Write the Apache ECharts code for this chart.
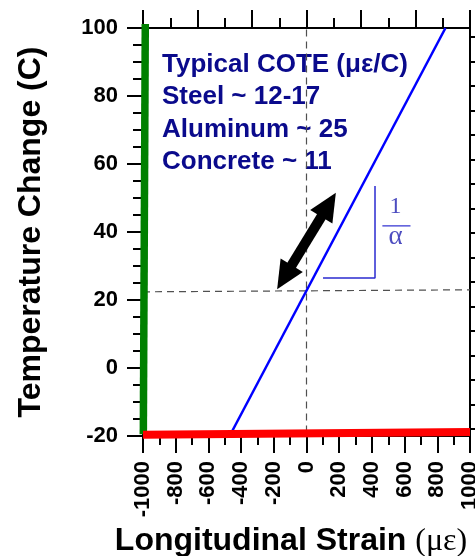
<!DOCTYPE html>
<html>
<head>
<meta charset="utf-8">
<script src="https://cdn.jsdelivr.net/npm/echarts@6/dist/echarts.min.js"></script>
<style>
  html, body { margin: 0; padding: 0; background: #fff; }
  #chart { width: 475px; height: 556px; }
</style>
</head>
<body>
<div id="chart"></div>
<script>
// Axis ranges
const strainRange = [-1000, 1000];
const strainStep = 200;
const tempRange = [-20, 100];
const tempStep = 20;
// Unlabelled secondary tick rows (top and right frame edges)
const topTickCount = 6;
const rightTickTemps = [-17.9, -10.7, -3.5, 3.7, 10.9, 18.1, 25.3, 32.5, 39.7,
                        46.9, 54.1, 61.3, 68.5, 75.7, 82.9, 90.1, 97.3];

// Free thermal expansion line (concrete, about 11 µε per degree C)
const freeStrain = [-455, 850];
const freeTemp = [-18.6, 100];
// Fully restrained boundaries
const fixedStrainX = [-998, -986];
const fixedStrainT = [-19.5, 101.2];
const fixedTempX = [-1000, 1000];
const fixedTempT = [-19.6, -18.85];
// Reference crosshair
const refHStrain = [-1000, 1000];
const refHTemp = [22.4, 23.0];
const refVStrain = [0, 0];
const refVTemp = [-19, 100];
// Double-headed arrow along the free line
const arrowStrain = [-135, 135];
const arrowTemp = [26.7, 48];
// Slope triangle and 1/alpha note
const slopeStrain = [101, 419, 419];
const slopeTemp = [26.5, 26.5, 53.5];
const fracBarStrain = [464, 636];
const fracBarTemp = [41.8, 41.8];
const fracText = ['1', 'α'];
const fracSize = [24, 27];
const fracStrain = [545, 545];
const fracTemp = [47.4, 38.6];
// Text block
const noteLines = ['Typical COTE (με/C)', 'Steel ~ 12-17', 'Aluminum ~ 25', 'Concrete ~ 11'];

const SANS = 'Liberation Sans, Arial, sans-serif';
const SERIF = 'Liberation Serif, Times New Roman, serif';
const zip = (xs, ys) => xs.map((x, i) => [x, ys[i]]);

const axisLine = { show: true, onZero: false, lineStyle: { color: '#000', width: 2 } };
const tickStyle = { color: '#000', width: 2 };

const chart = echarts.init(document.getElementById('chart'), null, { renderer: 'canvas' });

const lineSeries = (xs, ys, style, extra) => Object.assign({
  type: 'line', xAxisIndex: 0, yAxisIndex: 0, data: zip(xs, ys),
  symbol: 'none', silent: true, clip: false, animation: false,
  lineStyle: style
}, extra || {});

chart.setOption({
  animation: false,
  backgroundColor: '#fff',
  grid: { left: 143, right: 5, top: 28, bottom: 120, containLabel: false, outerBoundsMode: 'none' },
  xAxis: [
    {
      type: 'value', position: 'bottom', min: strainRange[0], max: strainRange[1], interval: strainStep,
      axisLine: axisLine,
      axisTick: { show: true, length: 17, lineStyle: tickStyle },
      minorTick: { show: true, splitNumber: 2, length: 9, lineStyle: tickStyle },
      splitLine: { show: false },
      axisLabel: {
        rotate: 90, margin: 25, fontSize: 22, fontWeight: 'bold', fontFamily: SANS, color: '#000',
        formatter: v => String(v)
      },
      name: 'Longitudinal Strain {s|(με)}', nameLocation: 'middle', nameGap: 88,
      nameTextStyle: {
        fontSize: 32, fontWeight: 'bold', fontFamily: SANS, color: '#000', padding: [0, 31, 0, 0],
        rich: { s: { fontSize: 32, fontWeight: 'normal', fontFamily: SERIF, color: '#000' } }
      }
    },
    {
      type: 'value', position: 'top', min: 0, max: topTickCount, interval: 1,
      axisLine: axisLine,
      axisTick: { show: true, length: 18, lineStyle: tickStyle },
      minorTick: { show: true, splitNumber: 2, length: 10, lineStyle: tickStyle },
      splitLine: { show: false },
      axisLabel: { show: false }
    }
  ],
  yAxis: [
    {
      type: 'value', position: 'left', min: tempRange[0], max: tempRange[1], interval: tempStep,
      axisLine: axisLine,
      axisTick: { show: true, length: 16, lineStyle: tickStyle },
      minorTick: { show: true, splitNumber: 4, length: 10, lineStyle: tickStyle },
      splitLine: { show: false },
      axisLabel: { margin: 25, fontSize: 22, fontWeight: 'bold', fontFamily: SANS, color: '#000' },
      name: 'Temperature Change (C)', nameLocation: 'middle', nameRotate: 90, nameGap: 96,
      nameTextStyle: { fontSize: 32, fontWeight: 'bold', fontFamily: SANS, color: '#000' }
    },
    {
      type: 'value', position: 'right', min: tempRange[0], max: tempRange[1],
      axisLine: axisLine,
      axisTick: { show: true, length: 8, lineStyle: tickStyle, customValues: rightTickTemps },
      splitLine: { show: false },
      axisLabel: { show: false }
    }
  ],
  series: [
    lineSeries(refHStrain, refHTemp, { color: '#505050', width: 1.2, type: [7, 5] }, { z: 2 }),
    lineSeries(refVStrain, refVTemp, { color: '#505050', width: 1.2, type: [7, 5] }, { z: 2 }),
    lineSeries(freeStrain, freeTemp, { color: '#0000ff', width: 2.5 }, { z: 3 }),
    lineSeries(fixedStrainX, fixedStrainT, { color: '#008000', width: 7.5, cap: 'butt' }, { z: 4 }),
    lineSeries(fixedTempX, fixedTempT, { color: '#ff0000', width: 8, cap: 'butt' }, { z: 5 }),
    lineSeries(slopeStrain, slopeTemp, { color: '#2b2bd0', width: 1.5 }, { z: 3 }),
    lineSeries(fracBarStrain, fracBarTemp, { color: '#2b2bd0', width: 1.2 }, { z: 3 }),
    {
      type: 'line', data: [], silent: true, z: 6,
      markLine: {
        silent: true, animation: false,
        symbol: ['triangle', 'triangle'], symbolSize: [26, 28],
        label: { show: false },
        emphasis: { disabled: true },
        itemStyle: { color: '#000' },
        lineStyle: { color: '#000', width: 10, type: 'solid' },
        data: [[{ coord: [arrowStrain[0], arrowTemp[0]] }, { coord: [arrowStrain[1], arrowTemp[1]] }]]
      }
    },
    {
      type: 'scatter', silent: true, z: 6, symbolSize: 0,
      data: fracText.map((t, i) => ({
        value: [fracStrain[i], fracTemp[i]],
        label: { fontSize: fracSize[i] }
      })),
      label: {
        show: true, position: 'inside',
        formatter: p => fracText[p.dataIndex],
        fontFamily: SERIF, color: '#2020b0'
      }
    }
  ],
  graphic: noteLines.map((t, i) => ({
    type: 'text', left: 162, top: 52 + i * 32.3, silent: true,
    style: { text: t, font: 'bold 26px ' + SANS, fill: '#0a0a8c' }
  }))
});
</script>
</body>
</html>
